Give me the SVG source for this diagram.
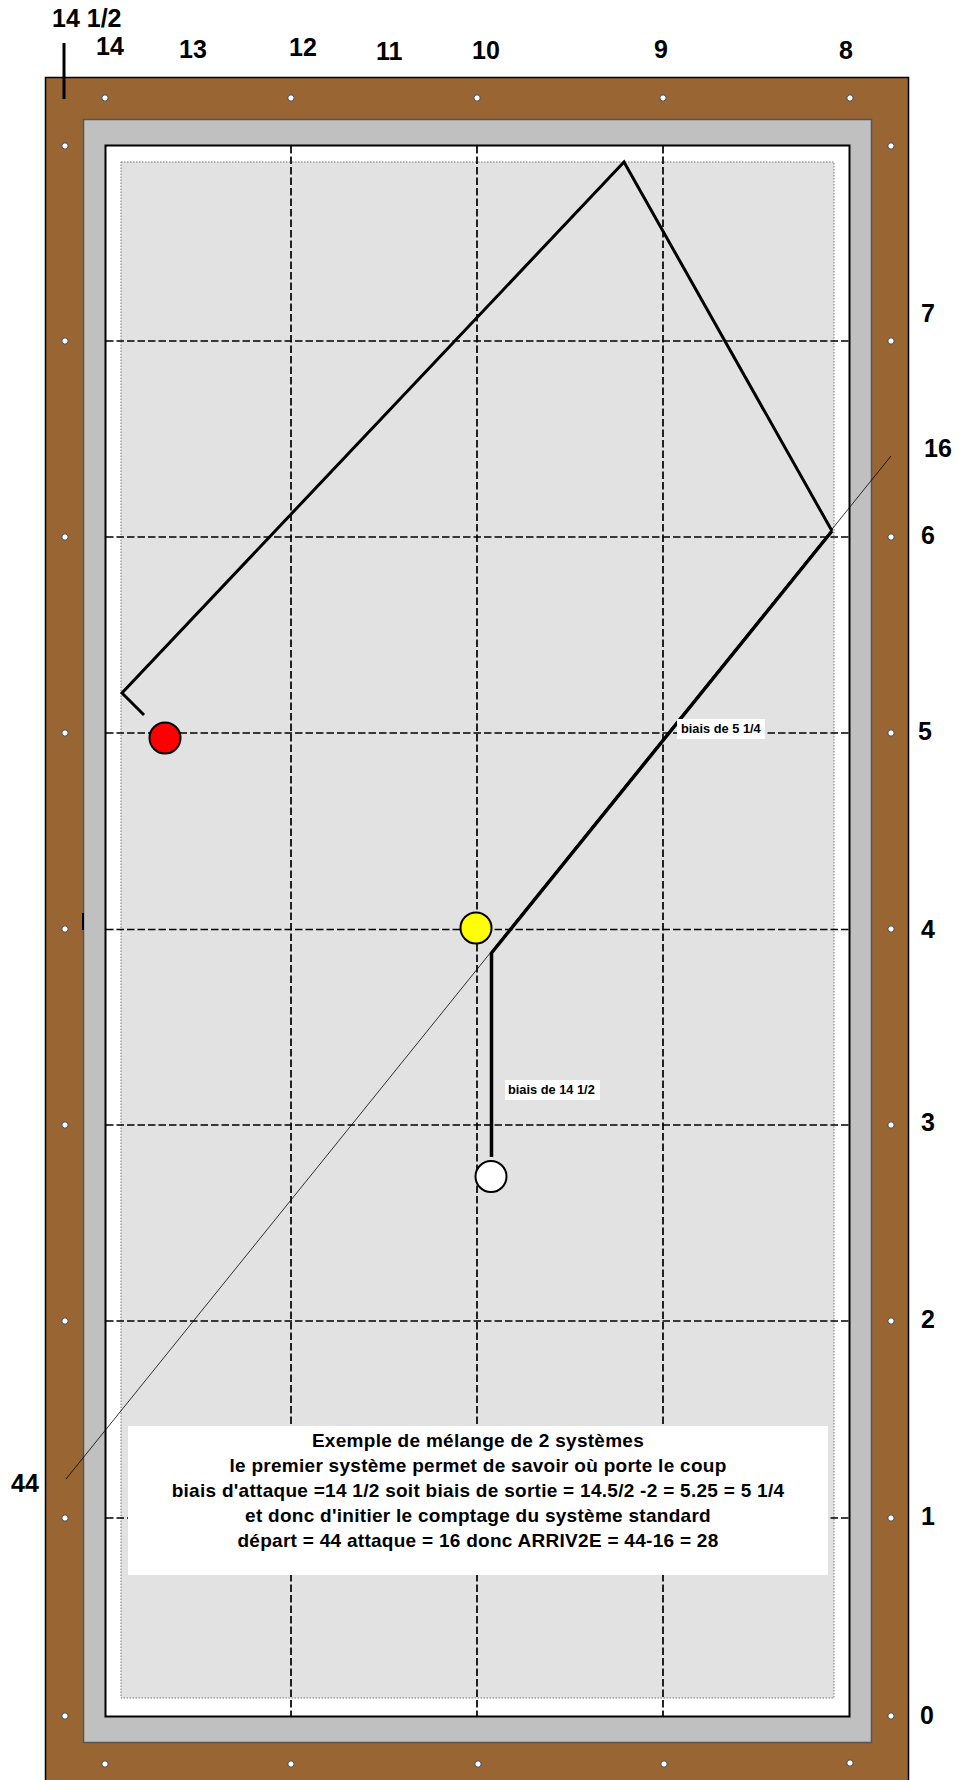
<svg xmlns="http://www.w3.org/2000/svg" width="964" height="1780" viewBox="0 0 964 1780">
<style>
text{font-family:"Liberation Sans",Arial,sans-serif;font-weight:bold;fill:#000}
.n{font-size:25px}
.c{font-size:19px;letter-spacing:.28px;text-anchor:middle}
.s{font-size:12.8px}
.g{stroke:#000;stroke-width:1.7;stroke-dasharray:7.5 3;fill:none}
.b{stroke:#000;fill:none;stroke-linejoin:miter}
.d{fill:#fff;stroke:#444;stroke-width:1}
.ball{stroke:#000;stroke-width:2}
</style>
<defs><circle id="dot" r="3.200" class="d"/></defs>
<rect width="964" height="1780" fill="#fff"/>
<g id="table">
<rect x="45.5" y="77.5" width="863" height="1710" fill="#996633" stroke="#000" stroke-width="1.5"/>
<rect x="83.5" y="119.5" width="788" height="1623" fill="#c0c0c0" stroke="#555" stroke-width="1.5"/>
<rect x="105.5" y="145.5" width="744" height="1571" fill="#fff" stroke="#000" stroke-width="2"/>
<rect x="121" y="162" width="713" height="1536" fill="#e2e2e2" stroke="#777" stroke-width="1" stroke-dasharray="1.5 1.5"/>
</g>
<g id="diamonds">
<use href="#dot" x="105" y="98"/><use href="#dot" x="291" y="98"/><use href="#dot" x="477" y="98"/><use href="#dot" x="663" y="98"/><use href="#dot" x="850" y="98"/>
<use href="#dot" x="105" y="1764"/><use href="#dot" x="291" y="1764"/><use href="#dot" x="478" y="1764"/><use href="#dot" x="664" y="1764"/><use href="#dot" x="850" y="1763"/>
<use href="#dot" x="65" y="146"/><use href="#dot" x="65" y="341"/><use href="#dot" x="65" y="537"/><use href="#dot" x="65" y="733"/><use href="#dot" x="65" y="929"/><use href="#dot" x="65" y="1125"/><use href="#dot" x="65" y="1321"/><use href="#dot" x="65" y="1518"/><use href="#dot" x="65" y="1716"/>
<use href="#dot" x="891" y="146"/><use href="#dot" x="891" y="341"/><use href="#dot" x="891" y="537"/><use href="#dot" x="891" y="733"/><use href="#dot" x="891" y="929"/><use href="#dot" x="891" y="1125"/><use href="#dot" x="891" y="1321"/><use href="#dot" x="891" y="1518"/><use href="#dot" x="891" y="1716"/>
</g>
<g id="connectors">
<path class="g" d="M291 146V1716M477 146V1716M663 146V1716"/>
<path class="g" d="M106 341H849M106 537H849M106 733H849M106 929.5H849M106 1125H849M106 1321H849M106 1518H849"/>
<path class="b" stroke-width="3" d="M64 43V99"/>
<path class="b" stroke-width="2" d="M83 913V930"/>
<path class="b" stroke-width=".8" d="M66 1479L891 456"/>
<path class="b" stroke-width="3.500" d="M491.500 1157V953L832 531"/>
<path class="b" stroke-width="3" d="M832 531L624 162L122 693L144 715"/>
</g>
<g id="balls">
<circle id="red" class="ball" cx="165" cy="738" r="15.5" fill="#f00"/>
<circle id="yellow" class="ball" cx="476" cy="928" r="15.5" fill="#ff0"/>
<circle id="white" class="ball" cx="491" cy="1176.500" r="15.5" fill="#fff"/>
</g>
<g id="label-sortie"><rect x="677" y="719" width="88" height="20" fill="#fff"/><text class="s" x="681" y="733">biais de 5 1/4</text></g>
<g id="label-attaque"><rect x="505" y="1080" width="95" height="20" fill="#fff"/><text class="s" x="508" y="1094">biais de 14 1/2</text></g>
<g id="note">
<rect x="128" y="1426" width="700" height="149" fill="#fff"/>
<text class="c" x="478" y="1447">Exemple de mélange de 2 systèmes</text>
<text class="c" x="478" y="1472">le premier système permet de savoir où porte le coup</text>
<text class="c" x="478" y="1497">biais d'attaque =14 1/2 soit biais de sortie = 14.5/2 -2 = 5.25 = 5 1/4</text>
<text class="c" x="478" y="1522">et donc d'initier le comptage du système standard</text>
<text class="c" x="478" y="1547">départ = 44 attaque = 16 donc ARRIV2E = 44-16 = 28</text>
</g>
<g id="numbers">
<text class="n" x="52" y="27">14 1/2</text>
<text class="n" x="96" y="55">14</text><text class="n" x="179" y="58">13</text><text class="n" x="289" y="56">12</text><text class="n" x="376" y="60">11</text><text class="n" x="472" y="59">10</text><text class="n" x="654" y="58">9</text><text class="n" x="839" y="59">8</text>
<text class="n" x="921" y="322">7</text><text class="n" x="924" y="457">16</text><text class="n" x="921" y="544">6</text><text class="n" x="918" y="740">5</text><text class="n" x="921" y="938">4</text><text class="n" x="921" y="1131">3</text><text class="n" x="921" y="1328">2</text><text class="n" x="921" y="1525">1</text><text class="n" x="920" y="1724">0</text>
<text class="n" x="11" y="1492">44</text>
</g>
</svg>
